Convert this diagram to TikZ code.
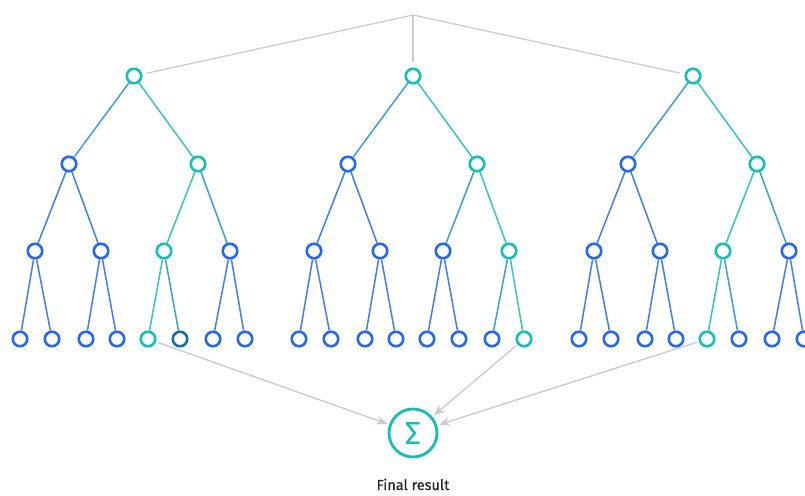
\documentclass[tikz,border=0pt]{standalone}
\usepackage{fontspec}
\setmainfont{Fira Sans}
\newfontfamily\labelfont{Fira Sans}[FakeBold=0.5]
\usetikzlibrary{arrows.meta}
\definecolor{hot}{HTML}{14BFB3}
\definecolor{hotline}{HTML}{33C6BE}
\definecolor{cold}{HTML}{2466F5}
\definecolor{coldline}{HTML}{3F7CF6}
\definecolor{deep}{HTML}{1B6C9E}
\definecolor{wire}{HTML}{C9CCD1}
\definecolor{ink}{HTML}{222428}

\begin{document}
\begin{tikzpicture}[x=1pt, y=-1pt,
  dot/.style={circle, draw=#1, line width=2.6pt, minimum size=14.5pt, inner sep=0pt},
  link/.style={draw=#1, line width=1.5pt},
  wireline/.style={draw=wire, line width=1.3pt, shorten >=5pt},
  feed/.style={draw=wire, line width=1.4pt, -{Stealth[length=11pt,width=9pt]},
    shorten <=2pt, shorten >=2pt}]
\useasboundingbox (0,0) rectangle (805,495);
\clip (0,0) rectangle (805,495);

\coordinate (top) at (413,15);

% three trees, \hb/\hc/\hl = lit branch on each level
\foreach \t/\x/\hb/\hc/\hl in {1/134/2/3/5, 2/413/2/4/8, 3/693/2/3/5}{
  \node[dot=hot] (r\t) at (\x,76) {};
  \draw[wireline] (top) -- (r\t);
  \foreach \i/\dx in {1/-65, 2/64}{
    \edef\col{\ifnum\i=\hb hot\else cold\fi}
    \edef\ecol{\ifnum\i=\hb hotline\else hotline!45!coldline\fi}
    \node[dot=\col] (n\t-\i) at (\x+\dx,164) {};
    \draw[link=\ecol] (r\t) -- (n\t-\i);
  }
  \foreach \j/\dx in {1/-99, 2/-33, 3/30, 4/96}{
    \pgfmathtruncatemacro\p{(\j+1)/2}
    \edef\col{\ifnum\j=\hc hot\else cold\fi}
    \edef\ecol{\ifnum\p=\hb \ifnum\j=\hc hotline\else hotline!45!coldline\fi\else coldline\fi}
    \node[dot=\col] (m\t-\j) at (\x+\dx,251) {};
    \draw[link=\ecol] (n\t-\p) -- (m\t-\j);
  }
  \foreach \k/\dx in {1/-114, 2/-82, 3/-48, 4/-17, 5/14, 6/46, 7/79, 8/111}{
    \pgfmathtruncatemacro\p{(\k+1)/2}
    \edef\col{\ifnum\k=\hl hot\else\ifnum\t\k=16 deep\else cold\fi\fi}
    \edef\ecol{\ifnum\p=\hc \ifnum\k=\hl hotline\else hotline!45!coldline\fi\else coldline\fi}
    \node[dot=\col] (l\t-\k) at (\x+\dx,339) {};
    \draw[link=\ecol] (m\t-\p) -- (l\t-\k);
  }
}

% sum of the lit leaves
\node[circle, draw=hot, line width=2.8pt, minimum size=48pt, inner sep=0pt,
  text=hot, font=\fontsize{32}{32}\selectfont] (sum) at (413,433) {Σ};
\node[text=ink, inner sep=0pt, anchor=base, font=\labelfont\fontsize{14.5}{16}\selectfont]
  (res) at (413,490) {Final result};

\draw[feed] (l1-5) -- (sum);
\draw[feed] (l2-8) -- (sum);
\draw[feed] (l3-5) -- (sum);
\end{tikzpicture}
\end{document}
